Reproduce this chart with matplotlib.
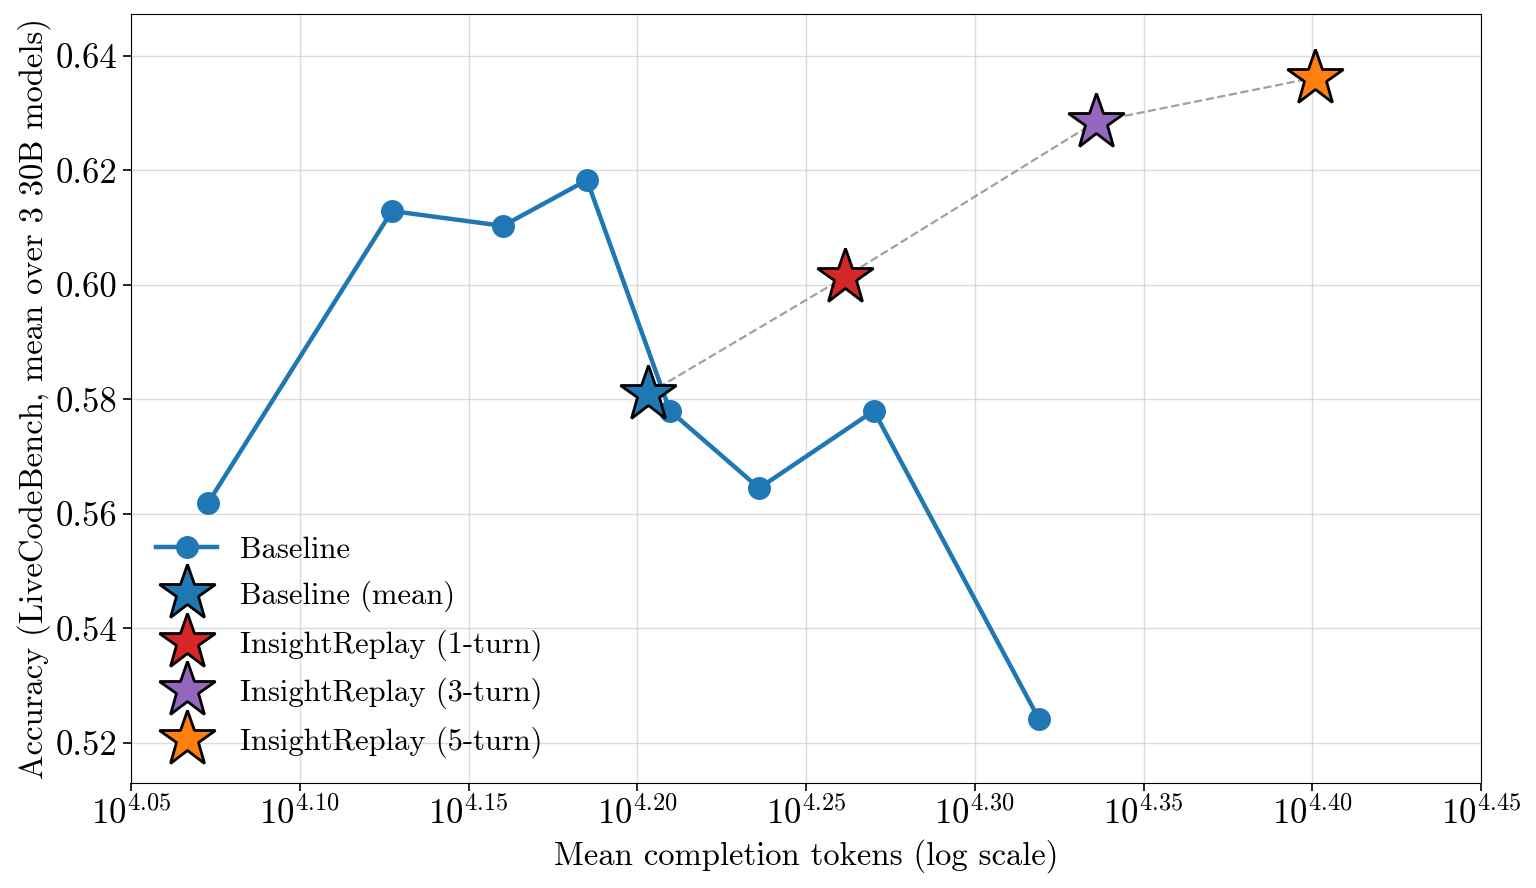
import matplotlib
matplotlib.use("Agg")
import matplotlib.pyplot as plt
from matplotlib.ticker import FixedLocator, NullLocator

plt.rcParams['font.family'] = 'serif'
plt.rcParams['font.serif'] = ['cmr10']
plt.rcParams['mathtext.fontset'] = 'cm'
plt.rcParams['axes.formatter.use_mathtext'] = True

# baseline sweep (mean completion tokens, accuracy)
baseline_tokens = [10**4.0728, 10**4.1273, 10**4.1602, 10**4.1851,
                   10**4.2097, 10**4.2361, 10**4.2701, 10**4.3190]
baseline_acc = [0.5619, 0.6129, 0.6103, 0.6183, 0.5780, 0.5645, 0.5780, 0.5242]

# summary points
star_labels = ['Baseline (mean)', 'InsightReplay (1-turn)',
               'InsightReplay (3-turn)', 'InsightReplay (5-turn)']
star_tokens = [10**4.2032, 10**4.2616, 10**4.3359, 10**4.4008]
star_acc = [0.5810, 0.6014, 0.6285, 0.6362]
star_colors = ['#1f77b4', '#d62728', '#9467bd', '#ff7f0e']

tick_exps = [4.05, 4.10, 4.15, 4.20, 4.25, 4.30, 4.35, 4.40, 4.45]
yticks = [0.52, 0.54, 0.56, 0.58, 0.60, 0.62, 0.64]

fig = plt.figure(figsize=(15.36, 8.88), dpi=100)
ax = fig.add_axes([0.0853, 0.1182, 0.8789, 0.866])

ax.plot(baseline_tokens, baseline_acc, '-o', color='#1f77b4', lw=3.2,
        ms=15.5, label='Baseline', zorder=3)
ax.plot(star_tokens, star_acc, '--', color='gray', alpha=0.75, lw=1.6, zorder=2)
for t, a, c, lab in zip(star_tokens, star_acc, star_colors, star_labels):
    ax.plot([t], [a], linestyle='none', marker='*', ms=42, color=c,
            markeredgecolor='black', markeredgewidth=2, label=lab, zorder=4)

ax.set_xscale('log')
ax.set_xlim(10**4.05, 10**4.45)
ax.set_ylim(0.513, 0.6473)
ax.xaxis.set_major_locator(FixedLocator([10**e for e in tick_exps]))
ax.xaxis.set_minor_locator(NullLocator())
ax.set_xticklabels([r'$10^{%.2f}$' % e for e in tick_exps])
ax.set_yticks(yticks)
ax.set_yticklabels(['%.2f' % v for v in yticks])
ax.tick_params(labelsize=25, length=6, width=1.2)
ax.grid(True, color='#cccccc', alpha=0.7, lw=1)
ax.set_axisbelow(True)

ax.set_xlabel('Mean completion tokens (log scale)', fontsize=23.5, labelpad=6)
ax.set_ylabel('Accuracy (LiveCodeBench, mean over 3 30B models)', fontsize=23.5)

ax.legend(loc='lower left', frameon=False, fontsize=22, borderaxespad=0.43,
          handlelength=2.0, labelspacing=0.555, handletextpad=0.75)

fig.savefig('out.png', dpi=100)
